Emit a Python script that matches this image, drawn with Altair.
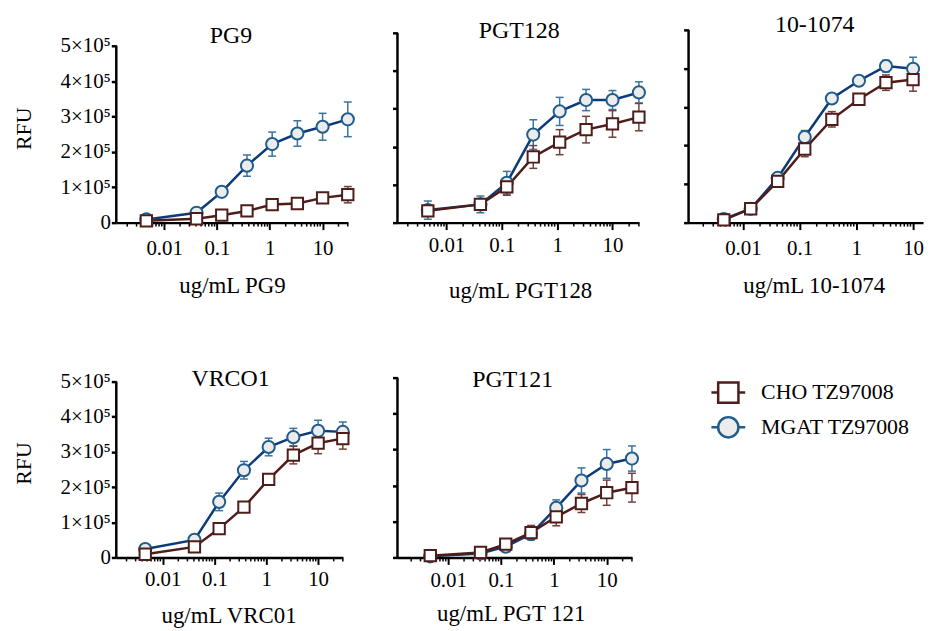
import altair as alt
import pandas as pd

FONT = "Liberation Serif"
BLUE_LINE = "#0d3a78"
BLUE_MARK = "#1f5d8c"
BLUE_ERR = "#3a73a0"
BROWN_LINE = "#4e1d1a"
BROWN_ERR = "#6f403c"
CIRCLE_FILL = "#ececec"

series = ["CHO TZ97008", "MGAT TZ97008"]

doses = [0.0046, 0.041, 0.123, 0.37, 1.11, 3.33, 10, 30]
doses_1074 = [0.0046, 0.0137, 0.041, 0.123, 0.37, 1.11, 3.33, 10]

y_ticks = [0, 100000, 200000, 300000, 400000, 500000]
x_ticks = [0.01, 0.1, 1, 10]

# PG9
pg9_mgat = [9000, 28000, 87000, 161000, 222000, 252000, 271000, 292000]
pg9_mgat_err = [4000, 4000, 6000, 30000, 34000, 36000, 38000, 49000]
pg9_cho = [5000, 11000, 21000, 33000, 51000, 54000, 70000, 79000]
pg9_cho_err = [3000, 3000, 5000, 6000, 8000, 7000, 10000, 23000]

# PGT128
pgt128_mgat = [33000, 48000, 105000, 232000, 293000, 323000, 323000, 343000]
pgt128_mgat_err = [24000, 22000, 30000, 39000, 37000, 28000, 25000, 28000]
pgt128_cho = [31000, 48000, 94000, 173000, 212000, 245000, 260000, 278000]
pgt128_cho_err = [10000, 15000, 22000, 30000, 33000, 35000, 35000, 36000]

# 10-1074
t1074_mgat = [9000, 36000, 116000, 222000, 322000, 368000, 406000, 399000]
t1074_mgat_err = [4000, 4000, 8000, 17000, 8000, 10000, 15000, 30000]
t1074_cho = [7000, 36000, 107000, 191000, 268000, 320000, 363000, 371000]
t1074_cho_err = [3000, 4000, 8000, 20000, 20000, 12000, 20000, 30000]

# VRC01
vrc01_mgat = [24000, 50000, 158000, 248000, 314000, 342000, 360000, 357000]
vrc01_mgat_err = [5000, 6000, 25000, 25000, 25000, 25000, 30000, 28000]
vrc01_cho = [9000, 30000, 82000, 143000, 222000, 291000, 325000, 338000]
vrc01_cho_err = [4000, 5000, 6000, 10000, 10000, 25000, 30000, 30000]

# PGT121
pgt121_mgat = [3000, 11000, 30000, 65000, 138000, 214000, 260000, 275000]
pgt121_mgat_err = [3000, 4000, 6000, 10000, 22000, 35000, 40000, 35000]
pgt121_cho = [5000, 14000, 37000, 69000, 113000, 150000, 180000, 194000]
pgt121_cho_err = [3000, 4000, 6000, 20000, 25000, 25000, 35000, 40000]

panels = [
    dict(title="PG9", xtitle="ug/mL PG9", doses=doses, mgat=pg9_mgat, mgat_err=pg9_mgat_err,
         cho=pg9_cho, cho_err=pg9_cho_err, w=233, h=194, ymax=544944, xdom=[0.00124, 30],
         ylabels=True, rfu_y=99, t_dx=-1, t_dy=6, xt_dx=0, xt_y=63, xlabpad=8),
    dict(title="PGT128", xtitle="ug/mL PGT128", doses=doses, mgat=pgt128_mgat, mgat_err=pgt128_mgat_err,
         cho=pgt128_cho, cho_err=pgt128_cho_err, w=243, h=194, ymax=507853, xdom=[0.0013, 30],
         ylabels=False, rfu_y=0, t_dx=1, t_dy=1, xt_dx=2, xt_y=68, xlabpad=5),
    dict(title="10-1074", xtitle="ug/mL 10-1074", doses=doses_1074, mgat=t1074_mgat, mgat_err=t1074_mgat_err,
         cho=t1074_cho, cho_err=t1074_cho_err, w=236, h=194, ymax=500000, xdom=[0.0011, 15],
         ylabels=False, rfu_y=0, t_dx=9, t_dy=-5, xt_dx=8, xt_y=63, xlabpad=8),
    dict(title="VRCO1", xtitle="ug/mL VRC01", doses=doses, mgat=vrc01_mgat, mgat_err=vrc01_mgat_err,
         cho=vrc01_cho, cho_err=vrc01_cho_err, w=228, h=181, ymax=511299, xdom=[0.00127, 30],
         ylabels=True, rfu_y=86, t_dx=1, t_dy=1, xt_dx=-1, xt_y=58, xlabpad=4),
    dict(title="PGT121", xtitle="ug/mL PGT 121", doses=doses, mgat=pgt121_mgat, mgat_err=pgt121_mgat_err,
         cho=pgt121_cho, cho_err=pgt121_cho_err, w=236, h=181, ymax=500000, xdom=[0.0011, 30],
         ylabels=False, rfu_y=0, t_dx=-2, t_dy=2, xt_dx=-4, xt_y=56, xlabpad=5),
]

STYLES = {
    "MGAT TZ97008": dict(line=BLUE_LINE, stroke=BLUE_MARK, err=BLUE_ERR, fill=CIRCLE_FILL, shape="circle", size=150),
    "CHO TZ97008": dict(line=BROWN_LINE, stroke=BROWN_LINE, err=BROWN_ERR, fill="white", shape="square", size=130),
}


def make_panel(p):
    rows = []
    for name, vals, errs in [("MGAT TZ97008", p["mgat"], p["mgat_err"]),
                             ("CHO TZ97008", p["cho"], p["cho_err"])]:
        for c, v, e in zip(p["doses"], vals, errs):
            rows.append({"series": name, "conc": c, "val": v, "lo": v - e, "hi": v + e})
    df = pd.DataFrame(rows)
    W, H = p["w"], p["h"]
    lo_d, hi_d = p["xdom"]
    minor = [m * 10.0 ** k for k in range(-3, 2) for m in range(2, 10)]
    minor = [v for v in minor if lo_d <= v <= hi_d]
    minor_df = pd.DataFrame({"conc": minor})

    xscale = alt.Scale(type="log", domain=p["xdom"], nice=False)
    yscale = alt.Scale(domain=[0, p["ymax"]], nice=False, zero=True)

    xaxis = alt.Axis(values=x_ticks, format="~g", grid=False,
                     domainColor="black", domainWidth=2.5, tickColor="black", tickWidth=2, tickSize=7,
                     labelFont=FONT, labelFontSize=21, labelColor="black", labelPadding=p["xlabpad"],
                     labelFlush=False, labelOverlap=False,
                     titleFont=FONT, titleFontSize=23, titleFontWeight="normal", titleColor="black",
                     titleX=W / 2 + p["xt_dx"], titleY=p["xt_y"], titleBaseline="middle", titleAlign="center")
    yax_kwargs = dict(values=y_ticks, grid=False, domain=False, tickColor="black", tickWidth=2.5, tickSize=5,
                      labels=p["ylabels"])
    if p["ylabels"]:
        yax_kwargs.update(
            labelExpr="datum.value == 0 ? '0' : format(datum.value / 100000, 'd') + '\u00d710\u2075'",
            labelFont=FONT, labelFontSize=21, labelColor="black", labelPadding=1,
            titleFont=FONT, titleFontSize=22, titleFontWeight="normal", titleColor="black",
            titleX=-93, titleY=p["rfu_y"], titleAngle=270, titleBaseline="middle", titleAlign="center")
    yaxis = alt.Axis(**yax_kwargs)
    ytitle = "RFU" if p["ylabels"] else None

    def X():
        return alt.X("conc:Q", scale=xscale, axis=xaxis, title=p["xtitle"])

    def Y(f):
        return alt.Y(f + ":Q", scale=yscale, axis=yaxis, title=ytitle)

    layers = []
    # minor x ticks
    layers.append(alt.Chart(minor_df).mark_rule(color="black", strokeWidth=1.5).encode(
        x=X(), y=alt.value(H), y2=alt.value(H + 4)))
    # y axis line
    axis_df = pd.DataFrame({"val": [y_ticks[0]], "hi": [y_ticks[-1]]})
    layers.append(alt.Chart(axis_df).mark_rule(color="black", strokeWidth=2.5).encode(
        x=alt.value(0), y=Y("val"), y2="hi:Q"))

    base = alt.Chart(df)
    for name in ["MGAT TZ97008", "CHO TZ97008"]:
        st = STYLES[name]
        b = base.transform_filter(alt.datum.series == name)
        layers.append(b.mark_rule(color=st["err"], strokeWidth=1.5).encode(x=X(), y=Y("lo"), y2="hi:Q"))
        layers.append(b.mark_tick(orient="horizontal", size=8, thickness=1.5, color=st["err"], opacity=1)
                      .encode(x=X(), y=Y("hi")))
        layers.append(b.mark_tick(orient="horizontal", size=8, thickness=1.5, color=st["err"], opacity=1)
                      .encode(x=X(), y=Y("lo")))
        layers.append(b.mark_line(color=st["line"], strokeWidth=2.5).encode(x=X(), y=Y("val")))
    for name in ["MGAT TZ97008", "CHO TZ97008"]:
        st = STYLES[name]
        b = base.transform_filter(alt.datum.series == name)
        layers.append(b.mark_point(shape=st["shape"], size=st["size"], filled=True, fill=st["fill"],
                                   stroke=st["stroke"], strokeWidth=2, opacity=1)
                      .encode(x=X(), y=Y("val")))
    # panel title
    layers.append(alt.Chart(pd.DataFrame({"t": [p["title"]]})).mark_text(
        font=FONT, fontSize=24, color="black", align="center", baseline="middle").encode(
        text="t:N", x=alt.value(W / 2 + p["t_dx"]), y=alt.value(p["t_dy"])))
    return alt.layer(*layers).properties(width=W, height=H)


square_path = "M-1,0H-0.6M0.6,0H1M-0.6,-0.6H0.6V0.6H-0.6Z"
circle_path = "M-1,0H-0.6M0.6,0H1M-0.6,0A0.6,0.6,0,1,0,0.6,0A0.6,0.6,0,1,0,-0.6,0Z"

leg_df = pd.DataFrame({"series": series})
ly = alt.Y("series:N", scale=alt.Scale(type="point", domain=series, padding=0.43), axis=None)
legend = alt.layer(
    alt.Chart(leg_df).transform_filter(alt.datum.series == "CHO TZ97008").mark_point(
        shape=square_path, size=1156, filled=True, fill="white", stroke=BROWN_LINE, strokeWidth=2.5, opacity=1
    ).encode(x=alt.value(40), y=ly),
    alt.Chart(leg_df).transform_filter(alt.datum.series == "MGAT TZ97008").mark_point(
        shape=circle_path, size=1156, filled=True, fill=CIRCLE_FILL, stroke=BLUE_MARK, strokeWidth=2.5, opacity=1
    ).encode(x=alt.value(40), y=ly),
    alt.Chart(leg_df).mark_text(align="left", baseline="middle", font=FONT, fontSize=22, color="black").encode(
        x=alt.value(73), y=ly, text="series:N"),
).properties(width=200, height=65)

cells = [make_panel(q) for q in panels] + [legend]
chart = alt.concat(*cells, columns=3, spacing={"row": 156, "column": 50}, bounds="flush").properties(
    padding={"left": 5, "top": 3, "right": 5, "bottom": 0}
).configure(background="white", font=FONT).configure_view(stroke=None)

chart.save("out.html", embed_options={"renderer": "svg", "actions": False})
